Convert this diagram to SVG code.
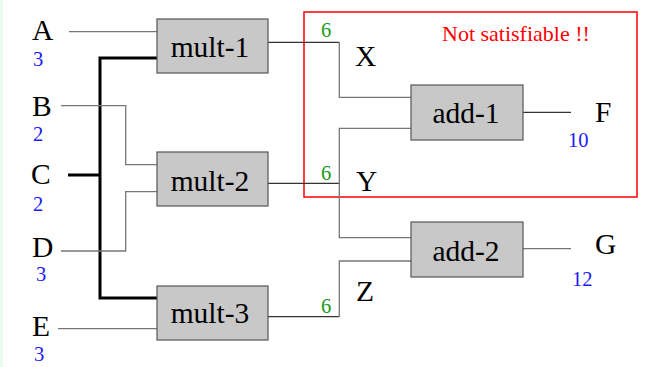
<svg xmlns="http://www.w3.org/2000/svg" width="658" height="367" viewBox="0 0 658 367">
<style>
.box{fill:#c8c8c8;stroke:#555;stroke-width:1.2}
.bl{font-family:"Liberation Serif",serif;font-size:29.5px;fill:#000;text-anchor:middle}
.lt{font-family:"Liberation Serif",serif;font-size:29.5px;fill:#000}
.num{font-family:"Liberation Serif",serif;font-size:20.5px;fill:#1a1aff}
.g6{font-family:"Liberation Serif",serif;font-size:20.5px;fill:#1a9a1a}
.w{fill:none;stroke:#777;stroke-width:1.3}
.wd{fill:none;stroke:#333;stroke-width:1.2}
.thick{fill:none;stroke:#000;stroke-width:3}
</style>
<rect x="0" y="0" width="658" height="367" fill="#fff"/>
<rect x="0" y="0" width="3" height="367" fill="#eefcee"/>
<g id="constraint-box">
<rect x="304" y="12" width="333" height="185" fill="none" stroke="#ff0000" stroke-width="1.5"/>
<text x="442" y="41" font-family="Liberation Serif,serif" font-size="22" fill="#ff0000">Not satisfiable !!</text>
</g>
<g id="connectors">
<polyline class="w" points="69,31.7 157,31.7"/>
<polyline class="thick" points="157,58 100,58 100,298 157,298"/>
<polyline class="thick" points="68,175 100,175"/>
<polyline class="w" points="61,105.7 125.7,105.7 125.7,164.7 157,164.7"/>
<polyline class="w" points="61,251 125.7,251 125.7,191.7 157,191.7"/>
<polyline class="w" points="58,328.7 157,328.7"/>
<polyline class="wd" points="268,42.3 339.3,42.3"/>
<polyline class="w" points="339.3,42.3 339.3,97.3 411,97.3"/>
<polyline class="wd" points="268,183.3 339.3,183.3"/>
<polyline class="w" points="411,128.3 339.3,128.3 339.3,237.7 411,237.7"/>
<polyline class="wd" points="268,316.7 339.3,316.7"/>
<polyline class="w" points="339.3,316.7 339.3,261 411,261"/>
<polyline class="wd" points="523,112.3 571,112.3"/>
<polyline class="w" points="523,248.7 571,248.7"/>
</g>
<g id="A"><text class="lt" x="32" y="40">A</text><text class="num" x="33" y="66">3</text></g>
<g id="B"><text class="lt" x="32" y="116">B</text><text class="num" x="33" y="141">2</text></g>
<g id="C"><text class="lt" x="31" y="184">C</text><text class="num" x="33" y="211">2</text></g>
<g id="D"><text class="lt" x="32" y="257">D</text><text class="num" x="36" y="281">3</text></g>
<g id="E"><text class="lt" x="32" y="336">E</text><text class="num" x="34" y="361">3</text></g>
<g id="mult-1"><rect class="box" x="157" y="19" width="111" height="54"/><text class="bl" x="210" y="57">mult-1</text></g>
<g id="mult-2"><rect class="box" x="157" y="152" width="111" height="54"/><text class="bl" x="210" y="191">mult-2</text></g>
<g id="mult-3"><rect class="box" x="157" y="286" width="111" height="54"/><text class="bl" x="210" y="323">mult-3</text></g>
<g id="add-1"><rect class="box" x="411" y="85" width="112" height="55"/><text class="bl" x="466" y="123">add-1</text></g>
<g id="add-2"><rect class="box" x="411" y="222" width="112" height="55"/><text class="bl" x="466" y="261">add-2</text></g>
<g id="X"><text class="lt" x="355" y="66">X</text><text class="g6" x="321" y="37">6</text></g>
<g id="Y"><text class="lt" x="356" y="191">Y</text><text class="g6" x="321" y="180">6</text></g>
<g id="Z"><text class="lt" x="356" y="301">Z</text><text class="g6" x="321" y="313">6</text></g>
<g id="F"><text class="lt" x="595" y="122">F</text><text class="num" x="568" y="147">10</text></g>
<g id="G"><text class="lt" x="595" y="254">G</text><text class="num" x="572" y="286">12</text></g>
</svg>
